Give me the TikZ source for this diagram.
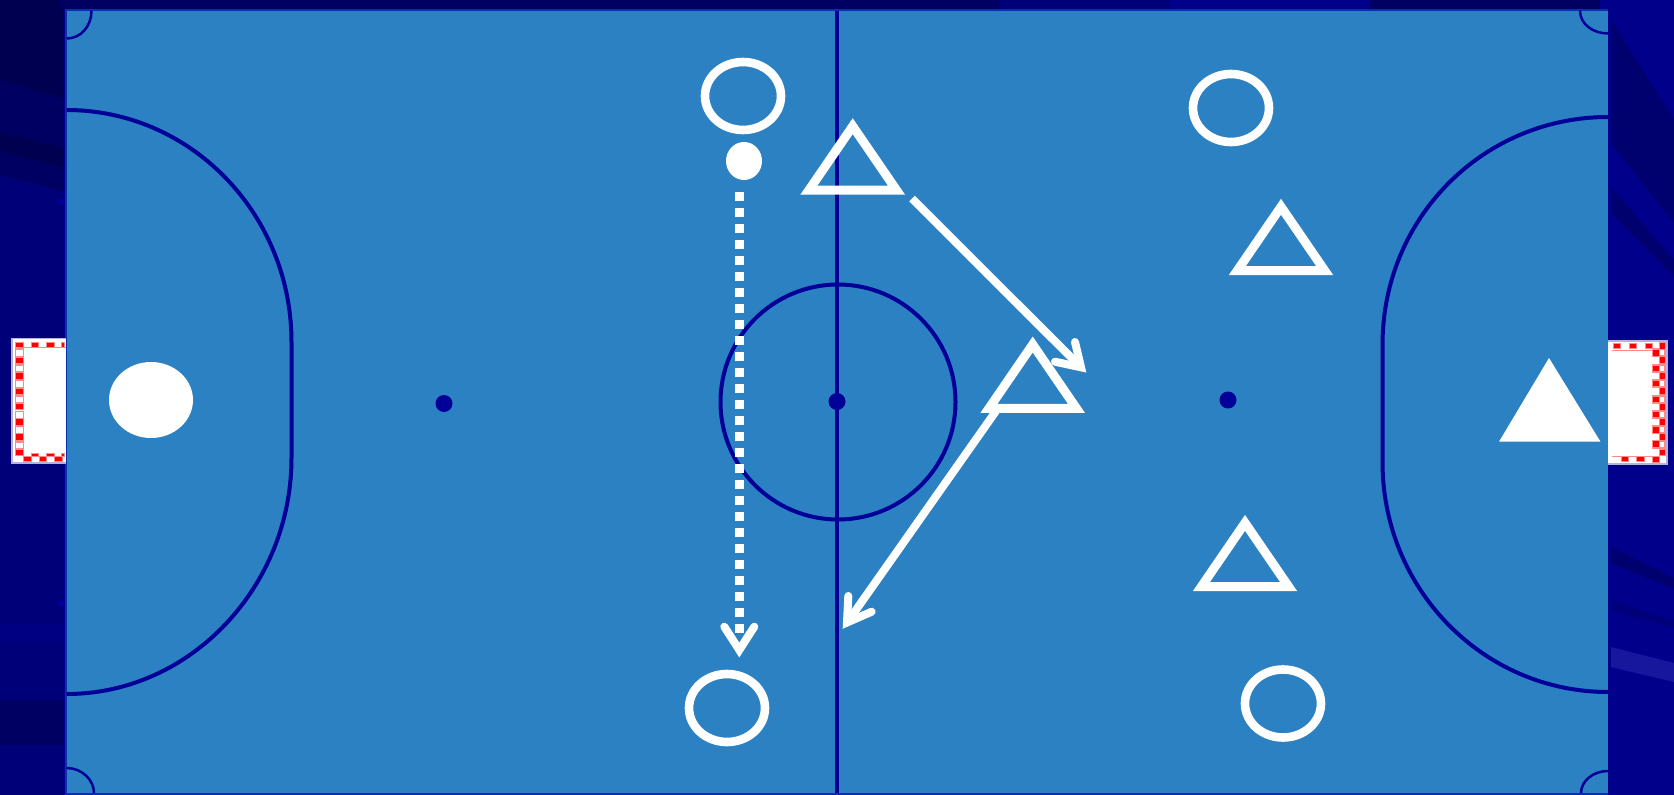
\documentclass[tikz,border=0pt]{standalone}
\definecolor{bgbase}{HTML}{00008B}
\definecolor{bgmid}{HTML}{000078}
\definecolor{bgdark}{HTML}{000062}
\definecolor{bgdeep}{HTML}{000050}
\definecolor{bgright}{HTML}{00006E}
\definecolor{bgbright}{HTML}{17179E}
\definecolor{court}{HTML}{2C81C2}
\definecolor{courtedge}{HTML}{0B2DB0}
\definecolor{linemark}{HTML}{000099}
\definecolor{goalred}{HTML}{FF0000}
\definecolor{goalpink}{HTML}{FF8A8A}
\definecolor{goaledge}{HTML}{B4B0E0}
\tikzset{
  courtline/.style={draw=linemark,line width=4pt},
  cornerline/.style={draw=linemark,line width=2.5pt},
  spot/.style={fill=linemark,draw=none},
  ringplayer/.style={draw=white,line width=8.6pt},
  triplayer/.style={draw=white,line width=9pt,line join=miter,miter limit=10},
  solidplayer/.style={fill=white,draw=none},
  runline/.style={draw=white,line width=8pt},
  tiphead/.style={draw=white,line width=8pt,line cap=round,line join=miter,miter limit=10},
  dribble/.style={draw=white,line width=8.6pt,dash pattern=on 8.6pt off 7.4pt},
  goalbox/.style={fill=white,draw=goaledge,line width=1.2pt},
  redsq/.style={fill=goalred,draw=goalpink,line width=.7pt},
  opensq/.style={fill=white,draw=goalpink,line width=1.3pt}
}
\newcommand{\tplayer}[2]{\draw[triplayer] (#1,#2) -- ++(43.7,63.8) -- ++(-87.4,0) -- cycle;}
\begin{document}
\begin{tikzpicture}[x=1pt,y=-1pt]
\useasboundingbox (0,0) rectangle (1674,795);
% background
\fill[bgbase] (0,0) rectangle (1674,795);
\fill[bgmid] (0,0) rectangle (64,700);
\fill[bgmid] (0,745) rectangle (64,795);
\fill[bgbase!50!bgmid] (0,623) rectangle (64,642);
\fill[bgdark] (0,0) -- (64,0) -- (64,192) -- (0,175) -- cycle;
\fill[bgdeep] (0,0) -- (64,0) -- (64,98) -- (0,80) -- cycle;
\fill[bgdeep] (0,132) -- (64,148) -- (64,167) -- (0,152) -- cycle;
\fill[bgdark] (0,700) rectangle (64,745);
\fill[linemark] (57,199) rectangle (64,204);
\fill[linemark] (57,601) rectangle (64,606);
\fill[bgdark] (0,0) rectangle (1000,9);
\fill[bgmid] (1000,0) rectangle (1370,9);
\fill[bgbase] (1170,0) rectangle (1370,9);
\fill[bgdark] (1370,0) rectangle (1600,9);
\fill[bgdeep] (0,0) rectangle (60,16);
% right margin
\fill[bgright] (1611,20) -- (1674,120) -- (1674,223) -- (1611,143) -- cycle;
\fill[bgright] (1611,187) -- (1674,260) -- (1674,277) -- (1611,213) -- cycle;
\fill[bgright] (1611,547) -- (1674,578) -- (1674,589) -- (1611,563) -- cycle;
\fill[bgmid] (1611,600) -- (1674,622) -- (1674,628) -- (1611,610) -- cycle;
\fill[bgbright] (1611,647) -- (1674,663) -- (1674,682) -- (1611,667) -- cycle;
% court
\fill[courtedge] (64.5,8.7) rectangle (1608,795);
\fill[court] (66.7,10.7) rectangle (1608,793);
% markings
\draw[courtline] (837,10.7) -- (837,793);
\draw[courtline] (838,402) circle (117.5);
\draw[courtline] (66.7,110) .. controls (191,110) and (291.5,214) .. (291.5,342) -- (291.5,458)
  .. controls (291.5,586) and (191,694) .. (66.7,694);
\draw[courtline] (1608,117) .. controls (1484,117) and (1382.5,217) .. (1382.5,345) -- (1382.5,462)
  .. controls (1382.5,590) and (1484,692) .. (1608,692);
\draw[cornerline] (66.7,38.5) .. controls (81,38.5) and (91.5,26) .. (91.5,10.7);
\draw[cornerline] (66.7,768) .. controls (82,768) and (94,780) .. (94,793);
\draw[cornerline] (1608,33.5) .. controls (1593,33.5) and (1580,24) .. (1580,10.7);
\draw[cornerline] (1608,771) .. controls (1593,771) and (1581,781) .. (1581,793);
\fill[spot] (444,403.5) circle (8.5);
\fill[spot] (837,401.5) circle (8.5);
\fill[spot] (1228,400) circle (8.5);
% left goal
\draw[goalbox] (66,338.3) -- (12,338.3) -- (12,463) -- (66,463);
\fill[white] (14,340) rectangle (66,461);
\foreach \y in {349.7,365,380.5,396,411.3,426.5,442}{\draw[opensq] (15.5,\y) rectangle (23.5,\y+7);}
\foreach \y in {342,357,372.5,388,403,418.5,433.5,449}{\fill[redsq] (15.7,\y) rectangle (23.3,\y+6.8);}
\foreach \x in {31,46.5}{\fill[redsq] (\x,342) rectangle (\x+7.6,347.5);}
\fill[redsq] (61,342) rectangle (64,347.5);
\draw[goalpink,line width=.8pt] (15,347.6) -- (66,347.6);
\foreach \x in {23.5,39,54.5}{\fill[redsq] (\x,456) rectangle (\x+7.5,461);}
\foreach \x in {31,46.5}{\fill[redsq] (\x,453.5) rectangle (\x+7.5,456);}
\fill[redsq] (61.5,453.5) rectangle (64,456);
% right goal
\draw[goalbox] (1608,341) -- (1667,341) -- (1667,464) -- (1608,464);
\fill[white] (1608,342.5) rectangle (1665.5,462.5);
\foreach \y in {349,365,380,396,411,426,441}{\draw[opensq] (1652.5,\y) rectangle (1659,\y+7);}
\foreach \y in {349,365,380,396,411,426,441}{\draw[opensq] (1659,\y) rectangle (1665,\y+7);}
\foreach \y in {349.3,365,380,396,411,426.7,440.7,456}{\fill[redsq] (1652.5,\y) rectangle (1659,\y+6.7);}
\foreach \y in {342.7,356.7,372.3,387.7,403.3,418.7,433.3,449}{\fill[redsq] (1659,\y) rectangle (1665.3,\y+6.7);}
\foreach \x in {1613.5,1629.5,1645}{\fill[redsq] (\x,343) rectangle (\x+7.3,348.5);}
\draw[goalpink,line width=.8pt] (1611.5,350) -- (1652,350);
\foreach \x in {1621.5,1636.7}{\fill[redsq] (\x,456) rectangle (\x+7.3,461.5);}
\draw[goalpink,line width=.8pt] (1611.5,456) -- (1652,456);
% players
\draw[ringplayer] (743,96) ellipse (38 and 34);
\draw[ringplayer] (1231,108) ellipse (38 and 34);
\draw[ringplayer] (727,708) ellipse (38 and 34);
\draw[ringplayer] (1283,703.5) ellipse (38 and 34);
\fill[solidplayer] (744,161) ellipse (18 and 19);
\fill[solidplayer] (151,400) ellipse (42 and 38);
\fill[solidplayer] (1549,358) -- (1600.5,441.7) -- (1499,441.7) -- cycle;
\tplayer{852.7}{126.2}
\tplayer{1281}{206.8}
\tplayer{1032.7}{344.5}
\tplayer{1245}{522.9}
% runs
\draw[dribble] (739.3,192.3) -- (739.3,633);
\draw[tiphead] (724.3,626.7) -- (739.3,650) -- (754.3,626.7);
\draw[runline] (912,198.6) -- (1081,367.3);
\draw[tiphead] (1075,342) -- (1081,367.3) -- (1055,361.7);
\draw[runline] (996,411) -- (846.8,623);
\draw[tiphead] (848.3,596) -- (847,622.5) -- (871.7,611.7);
\end{tikzpicture}
\end{document}
